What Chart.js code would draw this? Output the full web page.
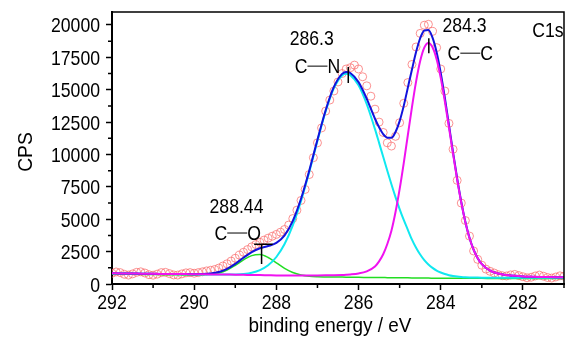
<!DOCTYPE html>
<html>
<head>
<meta charset="utf-8">
<script src="https://cdn.jsdelivr.net/npm/chart.js@4.4.1/dist/chart.umd.min.js"></script>
<style>
  html, body { margin: 0; padding: 0; background: #fff; }
</style>
</head>
<body>
<canvas id="chart" width="569" height="337"></canvas>
<script>
'use strict';

// measured C1s spectrum (open circles), 0.1 eV step
const dataEnergy = [
    292.0, 291.9, 291.8, 291.7, 291.6, 291.5, 291.4, 291.3, 291.2, 291.1,
    291.0, 290.9, 290.8, 290.7, 290.6, 290.5, 290.4, 290.3, 290.2, 290.1,
    290.0, 289.9, 289.8, 289.7, 289.6, 289.5, 289.4, 289.3, 289.2, 289.1,
    289.0, 288.9, 288.8, 288.7, 288.6, 288.5, 288.4, 288.3, 288.2, 288.1,
    288.0, 287.9, 287.8, 287.7, 287.6, 287.5, 287.4, 287.3, 287.2, 287.1,
    287.0, 286.9, 286.8, 286.7, 286.6, 286.5, 286.4, 286.3, 286.2, 286.1,
    286.0, 285.9, 285.8, 285.7, 285.6, 285.5, 285.4, 285.3, 285.2, 285.1,
    285.0, 284.9, 284.8, 284.7, 284.6, 284.5, 284.4, 284.3, 284.2, 284.1,
    284.0, 283.9, 283.8, 283.7, 283.6, 283.5, 283.4, 283.3, 283.2, 283.1,
    283.0, 282.9, 282.8, 282.7, 282.6, 282.5, 282.4, 282.3, 282.2, 282.1,
    282.0, 281.9, 281.8, 281.7, 281.6, 281.5, 281.4, 281.3, 281.2, 281.1,
    281.0
];
const dataCounts = [
    830, 930, 880, 750, 690, 780, 900, 940, 850, 720,
    680, 760, 880, 900, 800, 700, 690, 780, 860, 880,
    830, 880, 940, 1010, 1060, 1120, 1230, 1390, 1560, 1770,
    1990, 2230, 2450, 2660, 2870, 3050, 3220, 3390, 3540, 3690,
    3830, 4000, 4210, 4550, 5050, 5700, 6450, 7300, 8450, 9750,
    10900, 12050, 13350, 14200, 14900, 15600, 16250, 16600, 16700, 16900,
    16600, 16000, 15300, 14500, 13500, 12500, 11700, 10900, 10650, 11400,
    12450, 13950, 15550, 16950, 18300, 19350, 19980, 20050, 19500, 18250,
    16600, 14900, 12400, 10400, 8000, 6250, 4900, 3700, 2550, 1900,
    1450, 1150, 980, 850, 720, 640, 620, 700, 740, 650,
    560, 480, 520, 620, 690, 600, 500, 460, 540, 630,
    600
];

// fitted curves (each component drawn on top of its background)
const fitEnergy = [
    292.0, 291.8, 291.6, 291.4, 291.2, 291.0, 290.8, 290.6, 290.4, 290.2,
    290.0, 289.8, 289.6, 289.4, 289.2, 289.0, 288.8, 288.6, 288.4, 288.2,
    288.0, 287.8, 287.6, 287.4, 287.2, 287.0, 286.8, 286.6, 286.4, 286.3,
    286.2, 286.0, 285.8, 285.6, 285.5, 285.4, 285.3, 285.2, 285.1, 285.0,
    284.9, 284.8, 284.7, 284.6, 284.5, 284.4, 284.3, 284.2, 284.1, 284.0,
    283.9, 283.8, 283.7, 283.6, 283.5, 283.4, 283.3, 283.2, 283.1, 283.0,
    282.8, 282.6, 282.4, 282.2, 282.0, 281.8, 281.6, 281.4, 281.2, 281.0
];
const fitCO = [
    770, 762, 754, 746, 738, 730, 723, 716, 709, 703,
    700, 707, 746, 856, 1084, 1444, 1863, 2190, 2270, 2048,
    1634, 1206, 883, 692, 600, 562, 547, 538, 532, 529,
    526, 515, 508, 501, 497, 494, 490, 487, 483, 480,
    477, 473, 470, 466, 462, 458, 455, 452, 448, 445,
    444, 443, 442, 441, 440, 439, 438, 437, 436, 435,
    434, 434, 433, 433, 432, 432, 431, 431, 430, 430
];
const fitCN = [
    820, 812, 804, 796, 788, 780, 773, 766, 759, 752,
    745, 737, 729, 724, 725, 739, 779, 875, 1078, 1450,
    2085, 3084, 4518, 6402, 8646, 11060, 13334, 15118, 16102, 16229,
    16126, 15335, 13878, 11956, 10897, 9819, 8745, 7702, 6708, 5785,
    4942, 4183, 3420, 2796, 2272, 1838, 1505, 1242, 1038, 885,
    769, 683, 622, 576, 545, 524, 510, 500, 494, 489,
    484, 484, 483, 483, 482, 482, 481, 481, 480, 480
];
const fitCC = [
    825, 817, 810, 802, 795, 787, 781, 775, 769, 763,
    757, 749, 741, 734, 727, 720, 709, 697, 687, 675,
    663, 661, 660, 660, 661, 665, 672, 683, 702, 719,
    741, 815, 978, 1351, 1747, 2294, 3090, 4117, 5563, 7320,
    9337, 11503, 13660, 15626, 17212, 18248, 18605, 18282, 17358, 15915,
    14104, 12093, 10032, 8061, 6280, 4759, 3548, 2637, 1986, 1535,
    1024, 804, 693, 628, 587, 562, 543, 531, 522, 515
];
const fitSum = [
    825, 817, 810, 802, 795, 787, 781, 775, 769, 764,
    762, 771, 812, 928, 1168, 1553, 2027, 2466, 2765, 2933,
    3172, 3753, 4875, 6580, 8745, 11137, 13415, 15213, 16222, 16369,
    16291, 15585, 14298, 12756, 12097, 11569, 11295, 11282, 11738, 12575,
    13752, 15163, 16560, 17906, 18972, 19578, 19605, 19022, 17898, 16305,
    14379, 12283, 10162, 8146, 6335, 4794, 3570, 2650, 1994, 1539,
    1024, 804, 693, 628, 587, 562, 543, 531, 522, 515
];

// axes
const xTicks = [292, 290, 288, 286, 284, 282];
const xMinor = [291, 289, 287, 285, 283, 281];
const yTicks = [0, 2500, 5000, 7500, 10000, 12500, 15000, 17500, 20000];
const yMinor = [1250, 3750, 6250, 8750, 11250, 13750, 16250, 18750];
const xTitle = 'binding energy / eV';
const yTitle = 'CPS';

// peak annotations: label, bond, marker
const peakNames = ['288.44', '286.3', '284.3'];
const peakNameAt = [[288.97, 5480], [287.14, 18440], [283.42, 19440]];
const bondLeft = ['C', 'C', 'C'];
const bondRight = ['O', 'N', 'C'];
const bondAt = [[288.94, 3395], [287.0, 16280], [283.28, 17280]];
const markerEnergy = [288.36, 286.25, 284.29];
const markerTop = [3063, 16745, 18980];
const markerBottom = [1540, 15510, 17820];
const barCO = [288.54, 288.09];
const cornerLabel = 'C1s';
const cornerAt = [281.39, 19060];

// the original uses a tall, narrow Arial-like face
const FONT = "21px 'Liberation Sans', Arial, sans-serif";
const SQUEEZE = 0.84;

function squeezeText(ctx, text, px, py, align, sx, rot) {
    ctx.save();
    ctx.translate(px, py);
    if (rot) ctx.rotate(rot);
    ctx.scale(sx, 1);
    ctx.font = FONT;
    ctx.textAlign = align;
    ctx.textBaseline = 'alphabetic';
    ctx.fillText(text, 0, 0);
    ctx.restore();
}

const pts = (xs, ys) => xs.map((v, i) => ({ x: v, y: ys[i] }));

const annotate = {
    id: 'annotate',
    afterDatasetsDraw(chart) {
        const { ctx, chartArea: a } = chart;
        const x = chart.scales.x, y = chart.scales.y;
        ctx.save();
        ctx.strokeStyle = '#000';
        ctx.fillStyle = '#000';

        // frame top + right
        ctx.lineWidth = 1.5;
        ctx.beginPath();
        ctx.moveTo(a.left, a.top);
        ctx.lineTo(a.right, a.top);
        ctx.lineTo(a.right, a.bottom);
        ctx.stroke();

        // minor ticks
        ctx.beginPath();
        xMinor.forEach(v => {
            const px = x.getPixelForValue(v);
            ctx.moveTo(px, a.bottom);
            ctx.lineTo(px, a.bottom + 4);
        });
        yMinor.forEach(v => {
            const py = y.getPixelForValue(v);
            ctx.moveTo(a.left - 4, py);
            ctx.lineTo(a.left, py);
        });
        ctx.stroke();

        // tick labels and axis titles
        yTicks.forEach(v => squeezeText(ctx, String(v), a.left - 12, y.getPixelForValue(v) + 7.5, 'right', SQUEEZE));
        xTicks.forEach(v => squeezeText(ctx, String(v), x.getPixelForValue(v), a.bottom + 25, 'center', SQUEEZE));
        squeezeText(ctx, xTitle, a.left + 218, a.bottom + 47.5, 'center', 0.9);
        squeezeText(ctx, yTitle, a.left - 80, (a.top + a.bottom) / 2 + 4, 'center', 0.92, -Math.PI / 2);

        // peak positions
        peakNames.forEach((t, i) => {
            squeezeText(ctx, t, x.getPixelForValue(peakNameAt[i][0]), y.getPixelForValue(peakNameAt[i][1]), 'center', SQUEEZE);
        });
        squeezeText(ctx, cornerLabel, x.getPixelForValue(cornerAt[0]), y.getPixelForValue(cornerAt[1]), 'center', SQUEEZE);

        // bonds  C—X with a thin dash
        ctx.font = FONT;
        bondLeft.forEach((l, i) => {
            const r = bondRight[i];
            const wl = ctx.measureText(l).width * SQUEEZE;
            const wr = ctx.measureText(r).width * SQUEEZE;
            const dash = 20;
            const cx = x.getPixelForValue(bondAt[i][0]);
            const by = y.getPixelForValue(bondAt[i][1]);
            const start = cx - (wl + dash + wr) / 2;
            squeezeText(ctx, l, start, by, 'left', SQUEEZE);
            squeezeText(ctx, r, start + wl + dash, by, 'left', SQUEEZE);
            ctx.lineWidth = 1;
            ctx.beginPath();
            ctx.moveTo(start + wl, by - 7);
            ctx.lineTo(start + wl + dash, by - 7);
            ctx.stroke();
        });

        // peak markers
        ctx.lineWidth = 1.5;
        ctx.beginPath();
        markerEnergy.forEach((e, i) => {
            const px = x.getPixelForValue(e);
            ctx.moveTo(px, y.getPixelForValue(markerTop[i]));
            ctx.lineTo(px, y.getPixelForValue(markerBottom[i]));
        });
        ctx.moveTo(x.getPixelForValue(barCO[0]), y.getPixelForValue(markerTop[0]));
        ctx.lineTo(x.getPixelForValue(barCO[1]), y.getPixelForValue(markerTop[0]));
        ctx.stroke();
        ctx.restore();
    }
};

const lineSet = (label, ys, color, width, order) => ({
    label, data: pts(fitEnergy, ys), borderColor: color, borderWidth: width,
    pointRadius: 0, cubicInterpolationMode: 'monotone', fill: false, order, clip: 0
});

new Chart(document.getElementById('chart'), {
    type: 'line',
    data: {
        datasets: [
            {
                label: 'data', data: pts(dataEnergy, dataCounts), showLine: false,
                pointStyle: 'circle', pointRadius: 4, pointBorderWidth: 1,
                pointBorderColor: 'rgba(250, 110, 110, 0.75)', pointBackgroundColor: 'rgba(0,0,0,0)',
                order: 10, clip: 0
            },
            lineSet('C-O', fitCO, '#22dd22', 1.5, 5),
            lineSet('C-N', fitCN, '#10e8f0', 2, 4),
            lineSet('envelope', fitSum, '#1212dc', 2, 3),
            lineSet('C-C', fitCC, '#f012f0', 2, 2)
        ]
    },
    options: {
        responsive: false,
        animation: false,
        devicePixelRatio: 1,
        layout: { padding: { top: 12, right: 4, left: 0, bottom: 0 } },
        plugins: { legend: { display: false }, tooltip: { enabled: false } },
        scales: {
            x: {
                type: 'linear', reverse: true, min: 281, max: 292,
                afterBuildTicks: s => { s.ticks = xTicks.map(v => ({ value: v })); },
                afterFit: s => { s.height = 53; },
                ticks: { display: false },
                grid: { drawOnChartArea: false, drawTicks: true, tickLength: 6, tickWidth: 1.5, color: '#000' },
                border: { color: '#000', width: 2 }
            },
            y: {
                type: 'linear', min: 0, max: 21000,
                afterBuildTicks: s => { s.ticks = yTicks.map(v => ({ value: v })); },
                afterFit: s => { s.width = 112; },
                ticks: { display: false },
                grid: { drawOnChartArea: false, drawTicks: true, tickLength: 6, tickWidth: 1.5, color: '#000' },
                border: { color: '#000', width: 2 }
            }
        }
    },
    plugins: [annotate]
});
</script>
</body>
</html>
